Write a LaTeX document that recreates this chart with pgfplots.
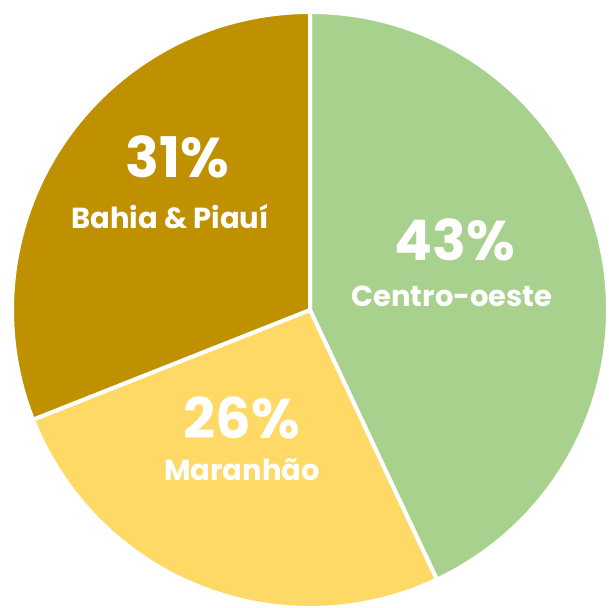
\documentclass[border=0pt]{standalone}
\usepackage{pgfplots}
\usepackage{pgfplotstable}
\pgfplotsset{compat=1.18}
\usepackage{fontspec}
\setmainfont{Poppins}[BoldFont={* Bold}]
\definecolor{cgreen}{HTML}{A9D18E}
\definecolor{cyellow}{HTML}{FFD966}
\definecolor{cgold}{HTML}{BF9000}

\pgfplotstableread{
region pct
centro 43
maranhao 26
bahia 31
}\sharetable

\begin{document}
\begin{tikzpicture}
\pgfplotstablegetelem{0}{pct}\of\sharetable \let\pA\pgfplotsretval
\pgfplotstablegetelem{1}{pct}\of\sharetable \let\pB\pgfplotsretval
\pgfplotstablegetelem{2}{pct}\of\sharetable \let\pC\pgfplotsretval
\pgfmathsetmacro{\aA}{90-3.6*\pA}
\pgfmathsetmacro{\aB}{\aA-3.6*\pB}
\pgfmathsetmacro{\aC}{\aB-3.6*\pC}
\begin{axis}[
  width=304pt, height=304pt, scale only axis,
  xmin=0, xmax=608, ymin=0, ymax=608,
  hide axis, clip=false,
]
\coordinate (bl) at (axis cs:0,0);
\coordinate (tr) at (axis cs:608,608);
\def\r{149pt}
\filldraw[fill=cgreen, draw=white, line width=2pt, line join=round]
  (axis cs:310,298) -- +(90:\r) arc[start angle=90, end angle=\aA, radius=\r] -- cycle;
\filldraw[fill=cyellow, draw=white, line width=2pt, line join=round]
  (axis cs:310,298) -- +(\aA:\r) arc[start angle=\aA, end angle=\aB, radius=\r] -- cycle;
\filldraw[fill=cgold, draw=white, line width=2pt, line join=round]
  (axis cs:310,298) -- +(\aB:\r) arc[start angle=\aB, end angle=\aC, radius=\r] -- cycle;
\begin{scope}[every node/.style={text=white, font=\bfseries, inner sep=0pt}]
\node[font=\bfseries\fontsize{28}{30}\selectfont] at (axis cs:455,368) {\pA\%};
\node[font=\bfseries\fontsize{14.5}{18}\selectfont] at (axis cs:452,312) {Centro-oeste};
\node[font=\bfseries\fontsize{28}{30}\selectfont] at (axis cs:242,190) {\pB\%};
\node[font=\bfseries\fontsize{14.5}{18}\selectfont] at (axis cs:242,138) {Maranhão};
\node[font=\bfseries\fontsize{28}{30}\selectfont] at (axis cs:177,451) {\pC\%};
\node[font=\bfseries\fontsize{14.5}{18}\selectfont] at (axis cs:170,391) {Bahia \& Piauí};
\end{scope}
\end{axis}
\pgfresetboundingbox
\path[use as bounding box] (bl) rectangle (tr);
\end{tikzpicture}
\end{document}
